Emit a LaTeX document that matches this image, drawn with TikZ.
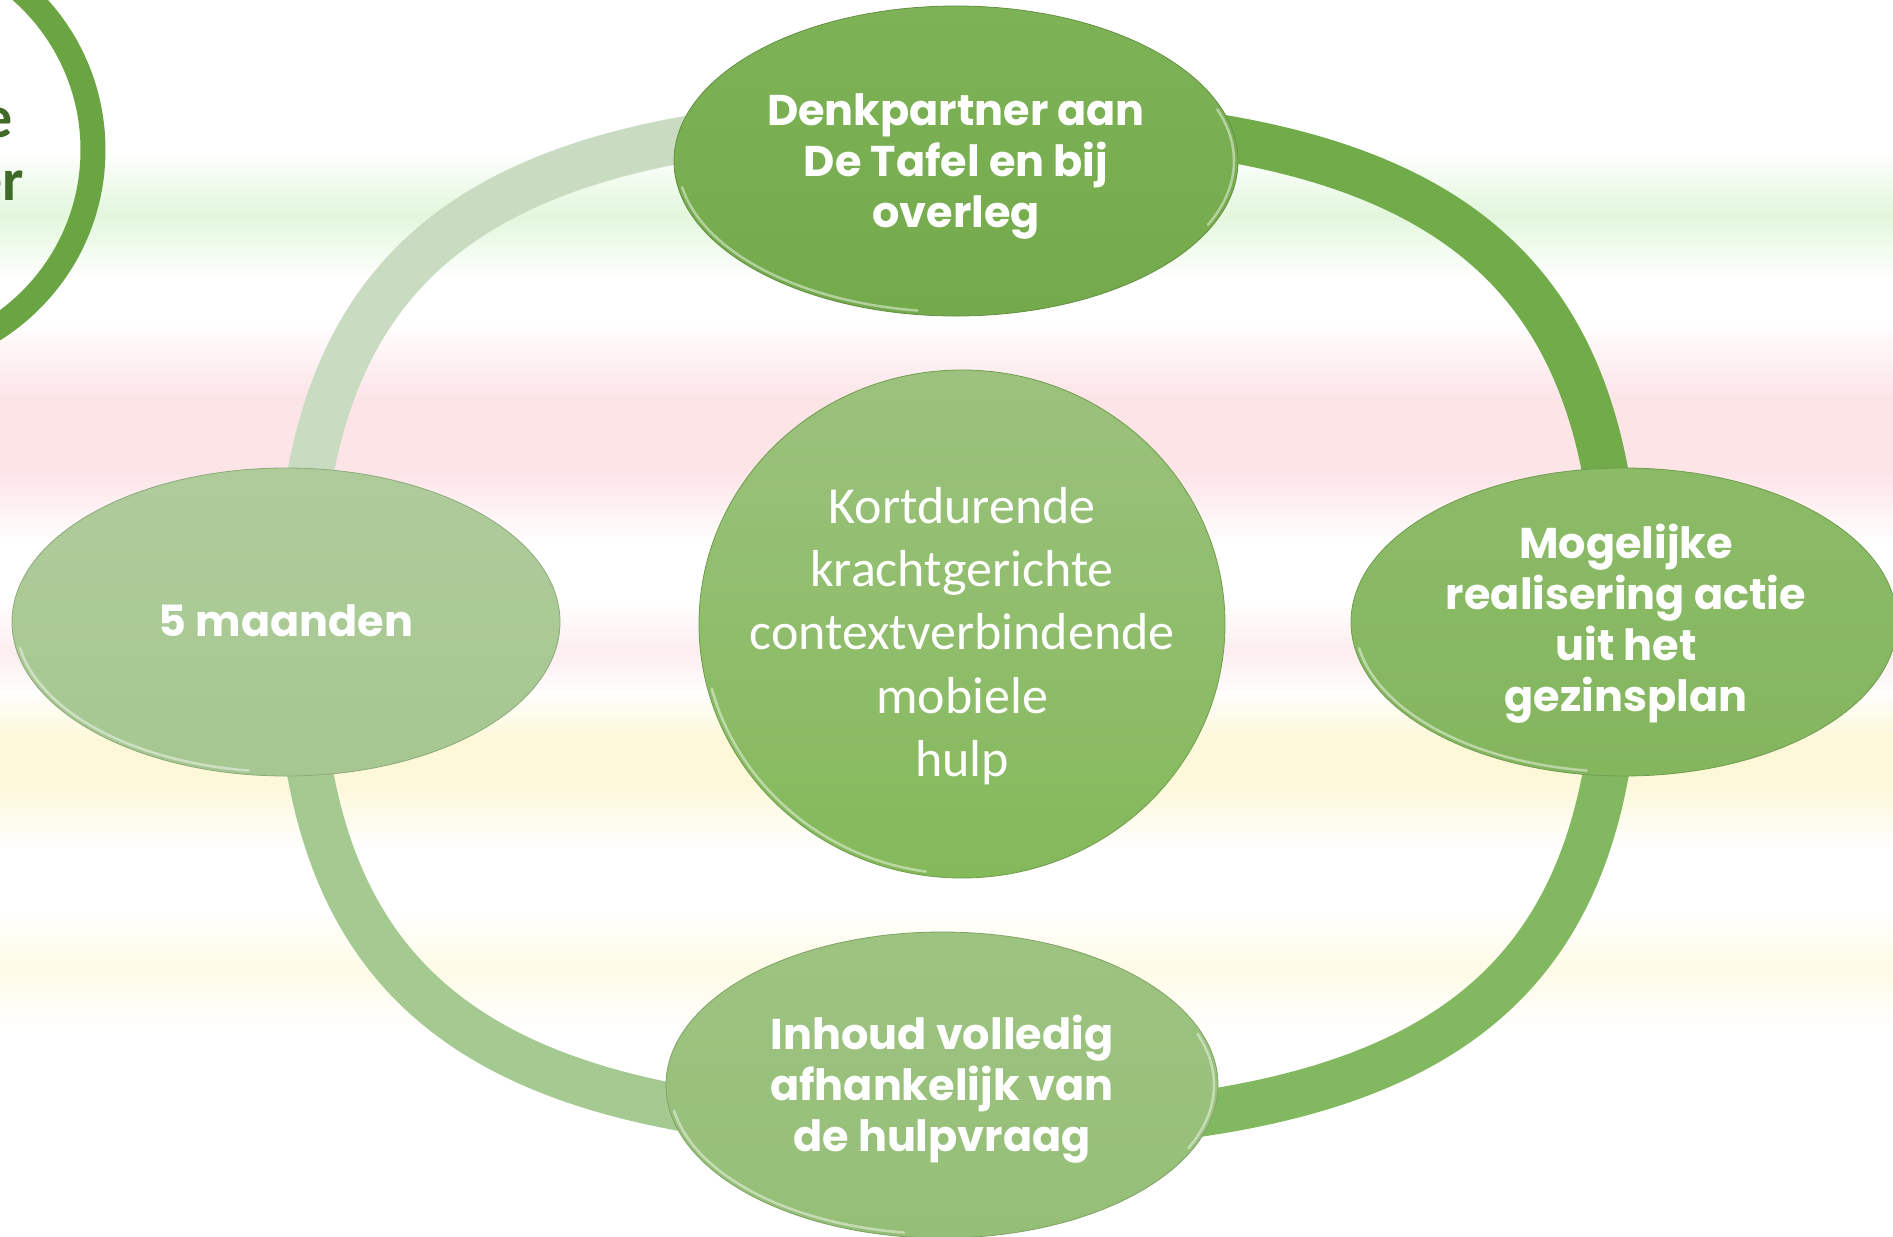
\documentclass[tikz,border=0pt]{standalone}
\usepackage{fontspec}
\setmainfont{Carlito}
\newfontfamily\lblfont{Poppins}
\newfontfamily\ctrfont{Carlito}
\usetikzlibrary{shapes.geometric,calc}

\definecolor{bandG}{HTML}{E2F7DC}
\definecolor{bandP}{HTML}{FCE4E7}
\definecolor{bandP2}{HTML}{FDEEEF}
\definecolor{bandY}{HTML}{FCF8D8}
\definecolor{bandY2}{HTML}{FEFBE6}
\definecolor{ringA}{HTML}{C9DCC1}
\definecolor{ringB}{HTML}{71AB4A}
\definecolor{ringC}{HTML}{82B960}
\definecolor{ringD}{HTML}{A5CA91}
\definecolor{topE}{HTML}{74AA4C}
\definecolor{topEl}{HTML}{7DB356}
\definecolor{rightE}{HTML}{84B65E}
\definecolor{rightEl}{HTML}{8CBB68}
\definecolor{botE}{HTML}{95BF77}
\definecolor{botEl}{HTML}{9DC381}
\definecolor{leftE}{HTML}{A6C791}
\definecolor{leftEl}{HTML}{AECC9A}
\definecolor{ctrE}{HTML}{84B95A}
\definecolor{ctrEl}{HTML}{9CC27E}
\definecolor{circG}{HTML}{6AA443}
\definecolor{darkG}{HTML}{3F6A28}

\begin{document}
\begin{tikzpicture}[x=1pt,y=-1pt,
  bubble/.style={ellipse, inner sep=0pt, line width=0.8pt},
  lbl/.style={text=white, align=center, inner sep=0pt, font=\lblfont\bfseries\fontsize{43}{51}\selectfont},
  ctr/.style={text=white, align=center, inner sep=0pt, font=\ctrfont\fontsize{52}{63.3}\selectfont},
  ringseg/.style={line width=46pt},
  band/.style={top color=white, bottom color=white, middle color=#1},
  fadein/.style={top color=white, bottom color=#1},
  fadeout/.style={top color=#1, bottom color=white},
  hl/.style={white, line width=2.5pt, opacity=0.45, line cap=round},
  frag/.style={anchor=base east, inner sep=0pt, text=darkG, font=\ctrfont\bfseries\fontsize{60}{60}\selectfont},
]
\useasboundingbox (0,0) rectangle (1893,1237);
\clip (0,0) rectangle (1893,1237);
\fill[white] (0,0) rectangle (1893,1237);

% soft background bands
\shade[band=bandG] (0,150) rectangle (1893,280);
\shade[fadein=bandP] (0,320) rectangle (1893,400);
\fill[bandP] (0,400) rectangle (1893,470);
\shade[fadeout=bandP] (0,470) rectangle (1893,545);
\shade[band=bandP2] (0,600) rectangle (1893,700);
\shade[fadein=bandY] (0,690) rectangle (1893,740);
\fill[bandY] (0,740) rectangle (1893,780);
\shade[fadeout=bandY] (0,780) rectangle (1893,850);
\shade[band=bandY2] (0,910) rectangle (1893,1030);

% partial circle at top left
\node[circle, draw=circG, line width=25pt, minimum size=424pt, inner sep=0pt] (side) at (-119,150) {};
\node[frag] (sideA) at (13,137) {e};
\node[frag] (sideB) at (24,200) {er};

% ring
\coordinate (rT) at (958,119);
\coordinate (rR) at (1618,624);
\coordinate (rB) at (958,1129);
\coordinate (rL) at (298,624);
\draw[ringseg, ringB] (rT) .. controls (1440,119) and (1618,255) .. (rR);
\draw[ringseg, ringC] (rR) .. controls (1618,993) and (1440,1129) .. (rB);
\draw[ringseg, ringD] (rB) .. controls (476,1129) and (298,993) .. (rL);
\draw[ringseg, ringA] (rL) .. controls (298,255) and (476,119) .. (rT);

% centre
\node[bubble, minimum width=526pt, minimum height=508pt, draw=ctrE!85!black, top color=ctrEl, bottom color=ctrE] (ctr) at (962,624) {};
\draw[hl] ($(ctr)+(195:259pt and 250pt)$) arc[start angle=195, end angle=262, x radius=259pt, y radius=250pt];

% outer bubbles
\node[bubble, minimum width=564pt, minimum height=310pt, draw=topE!85!black, top color=topEl, bottom color=topE] (top) at (956,161) {};
\draw[hl] ($(top)+(190:278pt and 151pt)$) arc[start angle=190, end angle=262, x radius=278pt, y radius=151pt];
\draw[hl] ($(top)+(-25:278pt and 151pt)$) arc[start angle=-25, end angle=20, x radius=278pt, y radius=151pt];

\node[bubble, minimum width=546pt, minimum height=308pt, draw=rightE!85!black, top color=rightEl, bottom color=rightE] (right) at (1624,622) {};
\draw[hl] ($(right)+(190:269pt and 150pt)$) arc[start angle=190, end angle=262, x radius=269pt, y radius=150pt];

\node[bubble, minimum width=552pt, minimum height=306pt, draw=botE!85!black, top color=botEl, bottom color=botE] (bot) at (942,1085) {};
\draw[hl] ($(bot)+(190:272pt and 149pt)$) arc[start angle=190, end angle=262, x radius=272pt, y radius=149pt];
\draw[hl] ($(bot)+(-25:272pt and 149pt)$) arc[start angle=-25, end angle=20, x radius=272pt, y radius=149pt];

\node[bubble, minimum width=548pt, minimum height=308pt, draw=leftE!85!black, top color=leftEl, bottom color=leftE] (left) at (286,622) {};
\draw[hl] ($(left)+(190:270pt and 150pt)$) arc[start angle=190, end angle=262, x radius=270pt, y radius=150pt];

% labels
\node[lbl] (topT) at (956,166) {Denkpartner aan\\De Tafel en bij\\overleg};
\node[lbl] (rightT) at (1626,624) {Mogelijke\\realisering actie\\uit het\\gezinsplan};
\node[lbl] (leftT) at (286,621) {5 maanden};
\node[lbl] (botT) at (942,1089) {Inhoud volledig\\afhankelijk van\\de hulpvraag};
\node[ctr] (ctrT) at (962,636) {Kortdurende\\krachtgerichte\\contextverbindende\\mobiele\\hulp};
\end{tikzpicture}
\end{document}
